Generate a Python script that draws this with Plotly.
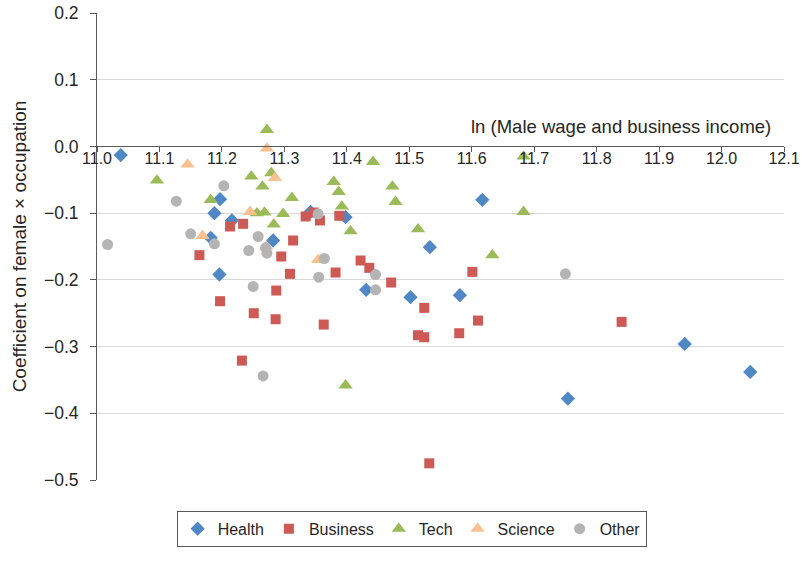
import plotly.graph_objects as go

# ln(male wage and business income) vs. coefficient on female x occupation
health_x = [11.038, 11.197, 11.188, 11.216, 11.182, 11.196, 11.282, 11.342, 11.398,
            11.431, 11.533, 11.617, 11.502, 11.581, 11.754, 11.941, 12.046]
health_y = [-0.013, -0.079, -0.100, -0.111, -0.137, -0.192, -0.141, -0.098, -0.106,
            -0.215, -0.151, -0.080, -0.226, -0.223, -0.378, -0.296, -0.338]

business_x = [11.213, 11.234, 11.164, 11.197, 11.232, 11.251, 11.286, 11.287, 11.295,
              11.309, 11.314, 11.334, 11.347, 11.357, 11.363, 11.382, 11.388, 11.422,
              11.436, 11.471, 11.514, 11.524, 11.524, 11.532, 11.580, 11.601, 11.610,
              11.840]
business_y = [-0.120, -0.116, -0.163, -0.232, -0.321, -0.250, -0.259, -0.216, -0.165,
              -0.191, -0.141, -0.105, -0.099, -0.111, -0.267, -0.189, -0.104, -0.171,
              -0.182, -0.204, -0.283, -0.286, -0.242, -0.475, -0.280, -0.188, -0.261,
              -0.263]

tech_x = [11.096, 11.182, 11.247, 11.265, 11.272, 11.279, 11.256, 11.268, 11.298,
          11.283, 11.312, 11.379, 11.387, 11.392, 11.406, 11.442, 11.398, 11.473,
          11.478, 11.514, 11.633, 11.683, 11.683]
tech_y = [-0.051, -0.080, -0.045, -0.060, 0.025, -0.040, -0.100, -0.099, -0.101,
          -0.117, -0.077, -0.053, -0.068, -0.090, -0.127, -0.023, -0.358, -0.060,
          -0.083, -0.124, -0.163, -0.015, -0.098]

science_x = [11.145, 11.169, 11.272, 11.285, 11.245, 11.271, 11.354]
science_y = [-0.027, -0.134, -0.003, -0.047, -0.098, -0.150, -0.170]

other_x = [11.017, 11.127, 11.203, 11.150, 11.188, 11.243, 11.258, 11.270, 11.272,
           11.250, 11.266, 11.354, 11.355, 11.364, 11.446, 11.446, 11.750]
other_y = [-0.147, -0.082, -0.059, -0.131, -0.146, -0.156, -0.135, -0.152, -0.160,
           -0.210, -0.344, -0.101, -0.196, -0.168, -0.192, -0.215, -0.191]

x_range = [11.0, 12.1]
y_range = [-0.5, 0.2]

series = [
    ("Health", health_x, health_y, "diamond", 11, "#5088C5"),
    ("Business", business_x, business_y, "square", 10, "#CD5A55"),
    ("Tech", tech_x, tech_y, "triangle-up", 12.5, "#9BBB59"),
    ("Science", science_x, science_y, "triangle-up", 12.5, "#FAC090"),
    ("Other", other_x, other_y, "circle", 11, "#B4B4B4"),
]

fig = go.Figure()
for name, xs, ys, sym, size, col in series:
    fig.add_trace(go.Scatter(
        x=xs, y=ys, mode="markers", name=name,
        marker=dict(symbol=sym, size=size, color=col, line=dict(width=0)),
    ))

# x axis crosses at y = 0
x_pos = (0 - y_range[0]) / (y_range[1] - y_range[0])

font = "Liberation Sans, Arial, sans-serif"
fig.update_layout(
    width=804, height=565,
    margin=dict(l=97, r=20, t=13, b=85),
    paper_bgcolor="white", plot_bgcolor="white",
    font=dict(family=font, size=16, color="#262626"),
    showlegend=True,
    legend=dict(
        orientation="h", x=0.458, xanchor="center", y=-0.066, yanchor="top",
        bordercolor="#595959", borderwidth=1, font=dict(size=16),
    ),
    xaxis=dict(
        range=x_range, dtick=0.1, tick0=11.0, tickformat=".1f",
        anchor="free", position=x_pos, automargin=False,
        showline=True, linecolor="#595959", linewidth=1,
        ticks="outside", ticklen=5, tickcolor="#595959",
        ticklabelstandoff=-8, tickfont=dict(size=16),
        showgrid=False, zeroline=False,
    ),
    yaxis=dict(
        range=y_range, dtick=0.1, tick0=0, tickformat=".1f", automargin=False,
        showline=True, linecolor="#595959", linewidth=1,
        ticks="outside", ticklen=6, tickcolor="#595959",
        ticklabelstandoff=8, tickfont=dict(size=17.5),
        showgrid=True, gridcolor="#D9D9D9", gridwidth=1, zeroline=False,
        title=dict(text="Coefficient on female × occupation", standoff=12,
                   font=dict(size=19)),
    ),
    annotations=[dict(
        text="ln (Male wage and business income)", xref="paper", yref="paper",
        x=0.763, y=0.756, xanchor="center", yanchor="middle",
        showarrow=False, font=dict(size=18.5),
    )],
)

fig.write_html("out.html", config={"displayModeBar": False},
               post_script="document.body.style.margin='0';")
